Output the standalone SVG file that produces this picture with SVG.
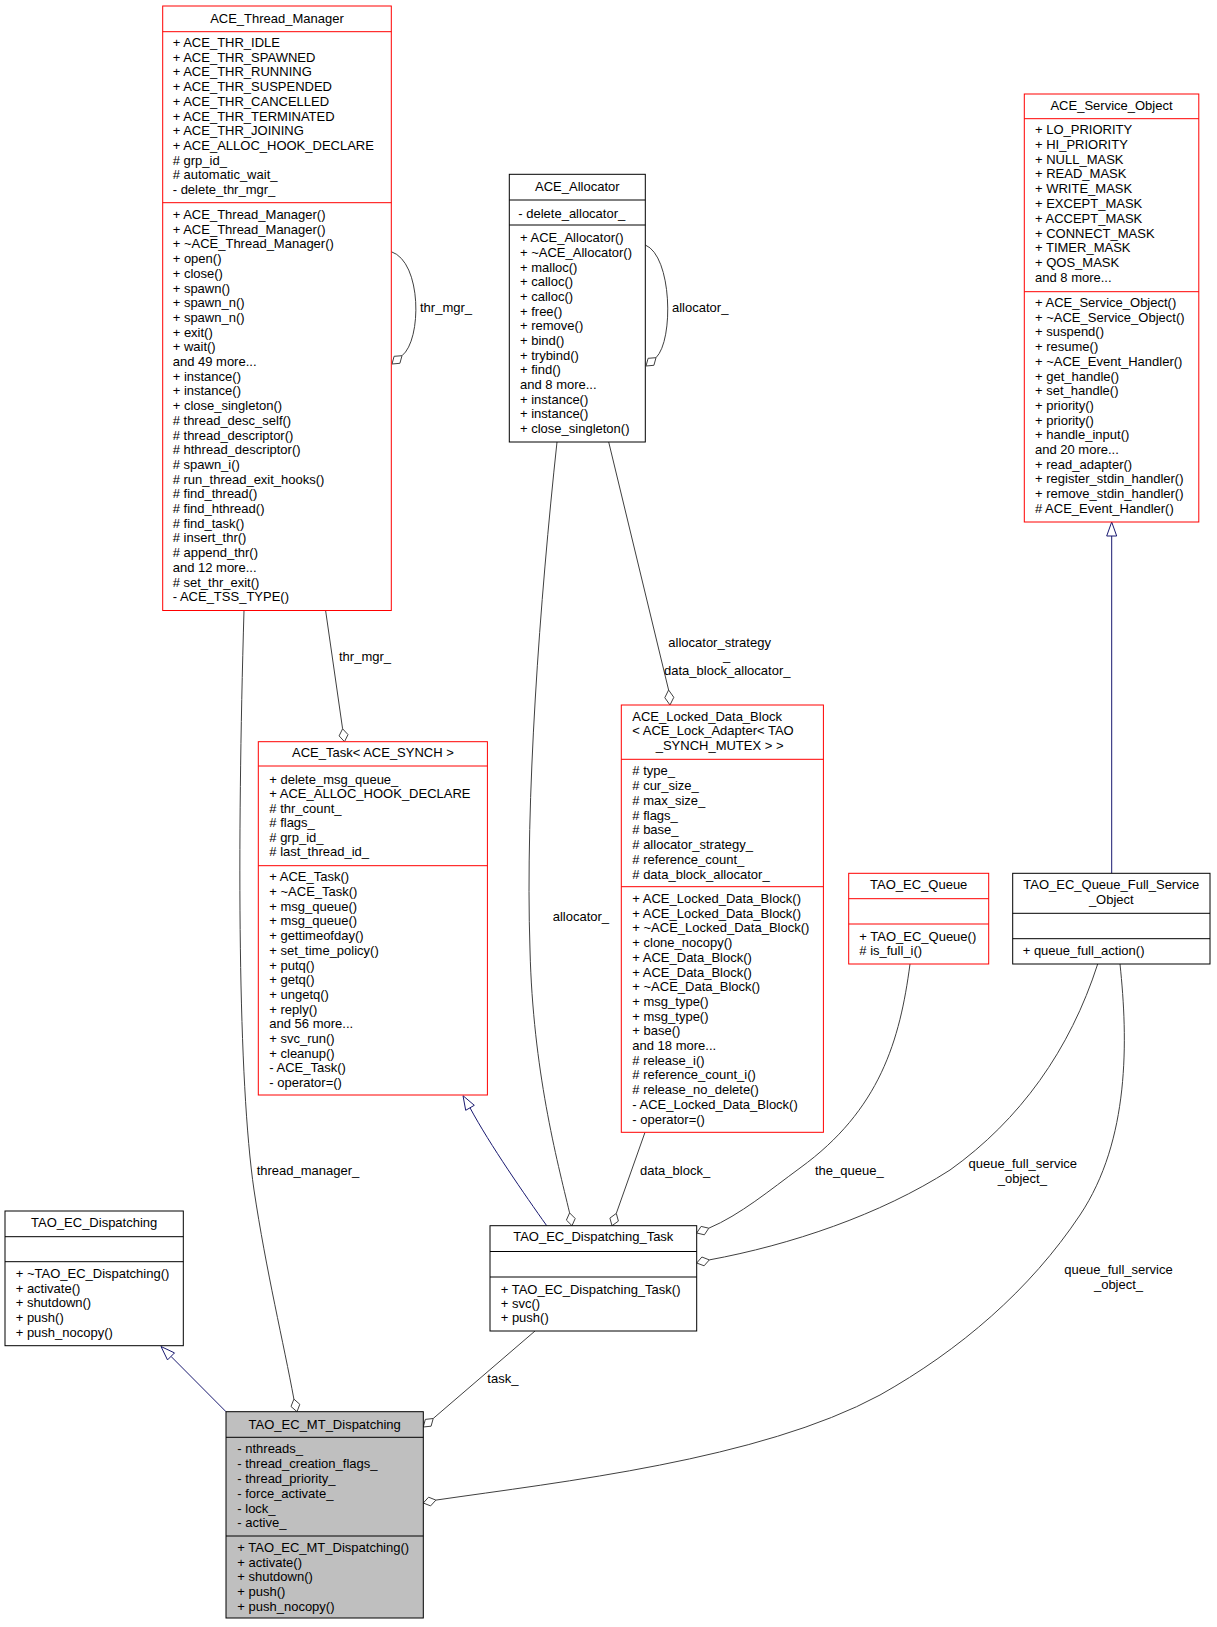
<svg xmlns="http://www.w3.org/2000/svg" width="1217" height="1627" viewBox="0 0 1217 1627">
<style>
text { font-family: "Liberation Sans", Arial, Helvetica, sans-serif; font-size: 13px; fill: #000; }
.c { text-anchor: middle; }
.bk { fill: #fff; stroke: #000; stroke-width: 1; }
.rd { fill: #fff; stroke: #ff0000; stroke-width: 1; }
.gy { fill: #bfbfbf; stroke: #000; stroke-width: 1; }
.lk { stroke: #000; stroke-width: 1; }
.lr { stroke: #ff0000; stroke-width: 1; }
.e { fill: none; stroke: #404040; stroke-width: 1; }
.d { fill: #fff; stroke: #404040; stroke-width: 1; }
.g { fill: none; stroke: #191970; stroke-width: 1; }
.gh { fill: #fff; stroke: #191970; stroke-width: 1; }
</style>
<rect width="1217" height="1627" fill="#fff"/>

<g id="edges">
  <!-- thr_mgr_ self loop -->
  <path class="e" d="M391.3,251.7 C422,262 422,340 402,355.7"/>
  <polygon class="d" points="392,364 399.9,363.3 402,355.7 394.1,356.3"/>
  <text x="420" y="311.6">thr_mgr_</text>
  <!-- allocator_ self loop -->
  <path class="e" d="M645.3,245 C672,256 674,340 656,357.7"/>
  <polygon class="d" points="646,366 653.9,365.3 656,357.7 648.1,358.3"/>
  <text x="672" y="311.6">allocator_</text>
  <!-- thr_mgr_ to ACE_Task -->
  <path class="e" d="M325.6,610.5 L342.6,728.8"/>
  <polygon class="d" points="344.5,741.7 348,734.6 342.6,728.8 339.1,735.9"/>
  <text x="339" y="661.3">thr_mgr_</text>
  <!-- thread_manager_ -->
  <path class="e" d="M244,610.5 C237,850 238,1080 254,1190 C266,1270 284,1345 293.9,1399.1"/>
  <polygon class="d" points="297,1411.7 299.8,1404.3 293.9,1399.1 291,1406.5"/>
  <text x="256.7" y="1174.6">thread_manager_</text>
  <!-- allocator_strategy / data_block_allocator_ -->
  <path class="e" d="M608.7,442 L668.6,690"/>
  <polygon class="d" points="670,705 673.8,697.3 668.6,690 664.8,697.7"/>
  <text x="668.3" y="647">allocator_strategy</text>
  <text x="723" y="660">_</text>
  <text x="664" y="675.3">data_block_allocator_</text>
  <!-- allocator_ to Dispatching_Task -->
  <path class="e" d="M557,442 C540,600 525,800 530,950 C533,1070 557,1160 569.6,1212.9"/>
  <polygon class="d" points="572,1225.7 575.2,1218.5 569.6,1212.9 566.4,1220.1"/>
  <text x="552.7" y="921.3">allocator_</text>
  <!-- data_block_ -->
  <path class="e" d="M645,1132.3 L616.3,1213.4"/>
  <polygon class="d" points="612,1225.7 618.4,1221.1 616.3,1213.4 609.9,1218.1"/>
  <text x="640" y="1175.3">data_block_</text>
  <!-- the_queue_ -->
  <path class="e" d="M910,964 C900,1040 880,1110 800,1168 C770,1190 740,1215 708.8,1228.2"/>
  <polygon class="d" points="696.7,1233 704.4,1234.8 708.8,1228.2 701.1,1226.4"/>
  <text x="815" y="1175.3">the_queue_</text>
  <!-- queue_full_service_object_ 1 -->
  <path class="e" d="M1097.7,964 C1070,1050 1020,1120 950,1170 C880,1215 790,1245 709.3,1259.9"/>
  <polygon class="d" points="696.7,1263 704.1,1265.8 709.3,1259.9 701.9,1257"/>
  <text class="c" x="1022.8" y="1168.3">queue_full_service</text>
  <text class="c" x="1022.3" y="1183.3">_object_</text>
  <!-- queue_full_service_object_ 2 -->
  <path class="e" d="M1120,964 C1128,1040 1130,1140 1080,1215 C1030,1290 960,1350 880,1395 C760,1460 560,1482 435.9,1500.1"/>
  <polygon class="d" points="423.3,1503 430.6,1505.9 435.9,1500.1 428.6,1497.2"/>
  <text class="c" x="1118.5" y="1274">queue_full_service</text>
  <text class="c" x="1118.5" y="1288.5">_object_</text>
  <!-- task_ -->
  <path class="e" d="M535,1331 L433.2,1418.5"/>
  <polygon class="d" points="423.3,1427 431.1,1426.2 433.2,1418.5 425.3,1419.4"/>
  <text x="487.3" y="1383">task_</text>
  <!-- generalizations -->
  <path class="g" d="M546.7,1225.7 C525,1195 490,1145 470,1107.8"/>
  <polygon class="gh" points="463,1095.7 474.3,1105.3 465.7,1110.3"/>
  <path class="g" d="M226,1411.7 L171,1356.4"/>
  <polygon class="gh" points="161,1346.5 174.5,1352.9 167.5,1359.9"/>
  <path class="g" d="M1111.7,873.3 L1111.7,536"/>
  <polygon class="gh" points="1111.7,522 1106.7,536 1116.7,536"/>
</g>

<g id="ACE_Thread_Manager">
  <rect class="rd" x="162.7" y="6" width="228.6" height="604.5"/>
  <line class="lr" x1="162.7" y1="31.7" x2="391.3" y2="31.7"/>
  <line class="lr" x1="162.7" y1="202.7" x2="391.3" y2="202.7"/>
  <text class="c" x="277" y="23">ACE_Thread_Manager</text>
  <text x="172.7" y="47">+ ACE_THR_IDLE</text>
  <text x="172.7" y="61.7">+ ACE_THR_SPAWNED</text>
  <text x="172.7" y="76.4">+ ACE_THR_RUNNING</text>
  <text x="172.7" y="91.1">+ ACE_THR_SUSPENDED</text>
  <text x="172.7" y="105.8">+ ACE_THR_CANCELLED</text>
  <text x="172.7" y="120.5">+ ACE_THR_TERMINATED</text>
  <text x="172.7" y="135.2">+ ACE_THR_JOINING</text>
  <text x="172.7" y="149.9">+ ACE_ALLOC_HOOK_DECLARE</text>
  <text x="172.7" y="164.6"># grp_id_</text>
  <text x="172.7" y="179.3"># automatic_wait_</text>
  <text x="172.7" y="194">- delete_thr_mgr_</text>
  <text x="172.7" y="219">+ ACE_Thread_Manager()</text>
  <text x="172.7" y="233.7">+ ACE_Thread_Manager()</text>
  <text x="172.7" y="248.4">+ ~ACE_Thread_Manager()</text>
  <text x="172.7" y="263.1">+ open()</text>
  <text x="172.7" y="277.8">+ close()</text>
  <text x="172.7" y="292.5">+ spawn()</text>
  <text x="172.7" y="307.2">+ spawn_n()</text>
  <text x="172.7" y="321.9">+ spawn_n()</text>
  <text x="172.7" y="336.6">+ exit()</text>
  <text x="172.7" y="351.3">+ wait()</text>
  <text x="172.7" y="366">and 49 more...</text>
  <text x="172.7" y="380.7">+ instance()</text>
  <text x="172.7" y="395.4">+ instance()</text>
  <text x="172.7" y="410.1">+ close_singleton()</text>
  <text x="172.7" y="424.8"># thread_desc_self()</text>
  <text x="172.7" y="439.5"># thread_descriptor()</text>
  <text x="172.7" y="454.2"># hthread_descriptor()</text>
  <text x="172.7" y="468.9"># spawn_i()</text>
  <text x="172.7" y="483.6"># run_thread_exit_hooks()</text>
  <text x="172.7" y="498.3"># find_thread()</text>
  <text x="172.7" y="513"># find_hthread()</text>
  <text x="172.7" y="527.7"># find_task()</text>
  <text x="172.7" y="542.4"># insert_thr()</text>
  <text x="172.7" y="557.1"># append_thr()</text>
  <text x="172.7" y="571.8">and 12 more...</text>
  <text x="172.7" y="586.5"># set_thr_exit()</text>
  <text x="172.7" y="601.2">- ACE_TSS_TYPE()</text>
</g>

<g id="ACE_Allocator">
  <rect class="bk" x="509.3" y="174.3" width="136" height="267.7"/>
  <line class="lk" x1="509.3" y1="200" x2="645.3" y2="200"/>
  <line class="lk" x1="509.3" y1="225" x2="645.3" y2="225"/>
  <text class="c" x="577.3" y="191.3">ACE_Allocator</text>
  <text x="518.3" y="218">- delete_allocator_</text>
  <text x="520" y="242.3">+ ACE_Allocator()</text>
  <text x="520" y="257">+ ~ACE_Allocator()</text>
  <text x="520" y="271.6">+ malloc()</text>
  <text x="520" y="286.3">+ calloc()</text>
  <text x="520" y="300.9">+ calloc()</text>
  <text x="520" y="315.6">+ free()</text>
  <text x="520" y="330.3">+ remove()</text>
  <text x="520" y="344.9">+ bind()</text>
  <text x="520" y="359.6">+ trybind()</text>
  <text x="520" y="374.2">+ find()</text>
  <text x="520" y="388.9">and 8 more...</text>
  <text x="520" y="403.6">+ instance()</text>
  <text x="520" y="418.2">+ instance()</text>
  <text x="520" y="432.9">+ close_singleton()</text>
</g>

<g id="ACE_Service_Object">
  <rect class="rd" x="1024.3" y="94" width="174.5" height="428"/>
  <line class="lr" x1="1024.3" y1="118.7" x2="1198.8" y2="118.7"/>
  <line class="lr" x1="1024.3" y1="291.7" x2="1198.8" y2="291.7"/>
  <text class="c" x="1111.5" y="110.3">ACE_Service_Object</text>
  <text x="1035" y="134">+ LO_PRIORITY</text>
  <text x="1035" y="148.8">+ HI_PRIORITY</text>
  <text x="1035" y="163.6">+ NULL_MASK</text>
  <text x="1035" y="178.4">+ READ_MASK</text>
  <text x="1035" y="193.2">+ WRITE_MASK</text>
  <text x="1035" y="208">+ EXCEPT_MASK</text>
  <text x="1035" y="222.8">+ ACCEPT_MASK</text>
  <text x="1035" y="237.6">+ CONNECT_MASK</text>
  <text x="1035" y="252.4">+ TIMER_MASK</text>
  <text x="1035" y="267.2">+ QOS_MASK</text>
  <text x="1035" y="282">and 8 more...</text>
  <text x="1035" y="307">+ ACE_Service_Object()</text>
  <text x="1035" y="321.7">+ ~ACE_Service_Object()</text>
  <text x="1035" y="336.4">+ suspend()</text>
  <text x="1035" y="351.1">+ resume()</text>
  <text x="1035" y="365.8">+ ~ACE_Event_Handler()</text>
  <text x="1035" y="380.5">+ get_handle()</text>
  <text x="1035" y="395.2">+ set_handle()</text>
  <text x="1035" y="409.9">+ priority()</text>
  <text x="1035" y="424.6">+ priority()</text>
  <text x="1035" y="439.3">+ handle_input()</text>
  <text x="1035" y="454">and 20 more...</text>
  <text x="1035" y="468.7">+ read_adapter()</text>
  <text x="1035" y="483.4">+ register_stdin_handler()</text>
  <text x="1035" y="498.1">+ remove_stdin_handler()</text>
  <text x="1035" y="512.8"># ACE_Event_Handler()</text>
</g>

<g id="ACE_Task">
  <rect class="rd" x="258.3" y="741.7" width="229.1" height="353.3"/>
  <line class="lr" x1="258.3" y1="766" x2="487.4" y2="766"/>
  <line class="lr" x1="258.3" y1="865.7" x2="487.4" y2="865.7"/>
  <text class="c" x="372.9" y="757.3">ACE_Task&lt; ACE_SYNCH &gt;</text>
  <text x="269.3" y="783.6">+ delete_msg_queue_</text>
  <text x="269.3" y="798.1">+ ACE_ALLOC_HOOK_DECLARE</text>
  <text x="269.3" y="812.6"># thr_count_</text>
  <text x="269.3" y="827.1"># flags_</text>
  <text x="269.3" y="841.6"># grp_id_</text>
  <text x="269.3" y="856.1"># last_thread_id_</text>
  <text x="269.3" y="881.3">+ ACE_Task()</text>
  <text x="269.3" y="896">+ ~ACE_Task()</text>
  <text x="269.3" y="910.7">+ msg_queue()</text>
  <text x="269.3" y="925.4">+ msg_queue()</text>
  <text x="269.3" y="940.1">+ gettimeofday()</text>
  <text x="269.3" y="954.8">+ set_time_policy()</text>
  <text x="269.3" y="969.5">+ putq()</text>
  <text x="269.3" y="984.2">+ getq()</text>
  <text x="269.3" y="998.9">+ ungetq()</text>
  <text x="269.3" y="1013.6">+ reply()</text>
  <text x="269.3" y="1028.3">and 56 more...</text>
  <text x="269.3" y="1043">+ svc_run()</text>
  <text x="269.3" y="1057.7">+ cleanup()</text>
  <text x="269.3" y="1072.4">- ACE_Task()</text>
  <text x="269.3" y="1087.1">- operator=()</text>
</g>

<g id="ACE_Locked_Data_Block">
  <rect class="rd" x="621.3" y="705" width="202.1" height="427.3"/>
  <line class="lr" x1="621.3" y1="759.3" x2="823.4" y2="759.3"/>
  <line class="lr" x1="621.3" y1="886.7" x2="823.4" y2="886.7"/>
  <text x="632.3" y="721.3">ACE_Locked_Data_Block</text>
  <text x="632.3" y="735.3">&lt; ACE_Lock_Adapter&lt; TAO</text>
  <text x="655.7" y="750">_SYNCH_MUTEX &gt; &gt;</text>
  <text x="632.3" y="775.3"># type_</text>
  <text x="632.3" y="790.1"># cur_size_</text>
  <text x="632.3" y="804.8"># max_size_</text>
  <text x="632.3" y="819.6"># flags_</text>
  <text x="632.3" y="834.3"># base_</text>
  <text x="632.3" y="849.1"># allocator_strategy_</text>
  <text x="632.3" y="863.9"># reference_count_</text>
  <text x="632.3" y="878.6"># data_block_allocator_</text>
  <text x="632.3" y="903">+ ACE_Locked_Data_Block()</text>
  <text x="632.3" y="917.7">+ ACE_Locked_Data_Block()</text>
  <text x="632.3" y="932.4">+ ~ACE_Locked_Data_Block()</text>
  <text x="632.3" y="947.1">+ clone_nocopy()</text>
  <text x="632.3" y="961.8">+ ACE_Data_Block()</text>
  <text x="632.3" y="976.5">+ ACE_Data_Block()</text>
  <text x="632.3" y="991.2">+ ~ACE_Data_Block()</text>
  <text x="632.3" y="1005.9">+ msg_type()</text>
  <text x="632.3" y="1020.6">+ msg_type()</text>
  <text x="632.3" y="1035.3">+ base()</text>
  <text x="632.3" y="1050">and 18 more...</text>
  <text x="632.3" y="1064.7"># release_i()</text>
  <text x="632.3" y="1079.4"># reference_count_i()</text>
  <text x="632.3" y="1094.1"># release_no_delete()</text>
  <text x="632.3" y="1108.8">- ACE_Locked_Data_Block()</text>
  <text x="632.3" y="1123.5">- operator=()</text>
</g>

<g id="TAO_EC_Queue">
  <rect class="rd" x="848.7" y="873.3" width="140" height="90.7"/>
  <line class="lr" x1="848.7" y1="898.7" x2="988.7" y2="898.7"/>
  <line class="lr" x1="848.7" y1="924" x2="988.7" y2="924"/>
  <text class="c" x="918.7" y="889">TAO_EC_Queue</text>
  <text x="859.3" y="940.6">+ TAO_EC_Queue()</text>
  <text x="859.3" y="954.6"># is_full_i()</text>
</g>

<g id="TAO_EC_Queue_Full_Service_Object">
  <rect class="bk" x="1012.7" y="873.3" width="197.3" height="90.7"/>
  <line class="lk" x1="1012.7" y1="913.3" x2="1210" y2="913.3"/>
  <line class="lk" x1="1012.7" y1="938.7" x2="1210" y2="938.7"/>
  <text class="c" x="1111.3" y="889">TAO_EC_Queue_Full_Service</text>
  <text class="c" x="1111.3" y="904">_Object</text>
  <text x="1022.7" y="955.3">+ queue_full_action()</text>
</g>

<g id="TAO_EC_Dispatching_Task">
  <rect class="bk" x="490" y="1225.7" width="206.7" height="105.3"/>
  <line class="lk" x1="490" y1="1251.5" x2="696.7" y2="1251.5"/>
  <line class="lk" x1="490" y1="1277" x2="696.7" y2="1277"/>
  <text class="c" x="593.3" y="1241.3">TAO_EC_Dispatching_Task</text>
  <text x="500.7" y="1293.6">+ TAO_EC_Dispatching_Task()</text>
  <text x="500.7" y="1308">+ svc()</text>
  <text x="500.7" y="1322">+ push()</text>
</g>

<g id="TAO_EC_Dispatching">
  <rect class="bk" x="5" y="1211" width="178.3" height="134.7"/>
  <line class="lk" x1="5" y1="1236.7" x2="183.3" y2="1236.7"/>
  <line class="lk" x1="5" y1="1261.7" x2="183.3" y2="1261.7"/>
  <text class="c" x="94.2" y="1227">TAO_EC_Dispatching</text>
  <text x="15.7" y="1278">+ ~TAO_EC_Dispatching()</text>
  <text x="15.7" y="1292.7">+ activate()</text>
  <text x="15.7" y="1307.4">+ shutdown()</text>
  <text x="15.7" y="1322.1">+ push()</text>
  <text x="15.7" y="1336.8">+ push_nocopy()</text>
</g>

<g id="TAO_EC_MT_Dispatching">
  <rect class="gy" x="226" y="1411.7" width="197.3" height="206.3"/>
  <line class="lk" x1="226" y1="1437.3" x2="423.3" y2="1437.3"/>
  <line class="lk" x1="226" y1="1536" x2="423.3" y2="1536"/>
  <text class="c" x="324.7" y="1428.6">TAO_EC_MT_Dispatching</text>
  <text x="237.3" y="1453">- nthreads_</text>
  <text x="237.3" y="1467.9">- thread_creation_flags_</text>
  <text x="237.3" y="1482.8">- thread_priority_</text>
  <text x="237.3" y="1497.7">- force_activate_</text>
  <text x="237.3" y="1512.6">- lock_</text>
  <text x="237.3" y="1527.3">- active_</text>
  <text x="237.3" y="1552">+ TAO_EC_MT_Dispatching()</text>
  <text x="237.3" y="1566.7">+ activate()</text>
  <text x="237.3" y="1581.4">+ shutdown()</text>
  <text x="237.3" y="1596.1">+ push()</text>
  <text x="237.3" y="1610.8">+ push_nocopy()</text>
</g>
</svg>
